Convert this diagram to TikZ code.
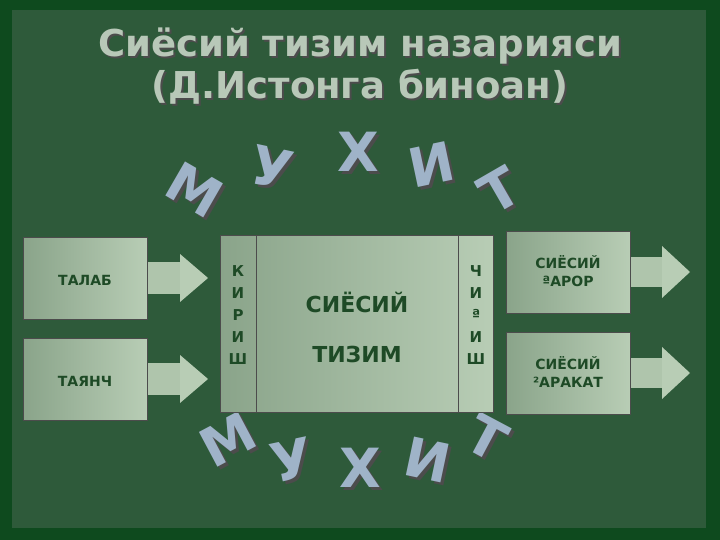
\documentclass[tikz,border=0pt]{standalone}
\usepackage{fontspec}
\setmainfont{DejaVu Sans}
\usetikzlibrary{shapes.arrows,shadows}
\definecolor{bg}{HTML}{2E5A3A}
\definecolor{frame}{HTML}{0E4A1E}
\definecolor{boxl}{HTML}{8AA48A}
\definecolor{boxr}{HTML}{B8CDB5}
\definecolor{txt}{HTML}{1E4A26}
\definecolor{ttl}{HTML}{B8C8B8}
\definecolor{let}{HTML}{9FB3C8}
\begin{document}
\begin{tikzpicture}[x=1pt,y=-1pt,
  bx/.style={draw=black!70,left color=boxl,right color=boxr},
  lbl/.style={font=\bfseries\fontsize{14}{18}\selectfont,text=txt,align=center},
  ttlst/.style={font=\bfseries\fontsize{37}{42}\selectfont,text=ttl,align=center},
  ml/.style={font=\bfseries\fontsize{54}{54}\selectfont,text=let,draw=none},
  mlsh/.style={font=\bfseries\fontsize{54}{54}\selectfont,text=black!70}]
\useasboundingbox (0,0) rectangle (720,540);
\fill[frame] (0,0) rectangle (720,540);
\fill[bg] (12,10) rectangle (706,528);
% title
\node[ttlst,text=black!70] at (362,68) {Сиёсий тизим назарияси\\(Д.Истонга биноан)};
\node[ttlst] (title) at (360,66) {Сиёсий тизим назарияси\\(Д.Истонга биноан)};
% letters top
\foreach \l/\x/\y/\r [count=\i] in {М/195/190/30,У/272/168/12,Х/358/152/0,И/432/165/-12,Т/500/190/-30}{
  \node[mlsh,rotate=-\r] at (\x+3,\y+3) {\l};
  \node[ml,rotate=-\r] (t\i) at (\x,\y) {\l};}
\foreach \l/\x/\y/\r [count=\i] in {М/228/440/-28,У/292/460/-12,Х/360/468/0,И/428/460/12,Т/487/438/28}{
  \node[mlsh,rotate=-\r] at (\x+3,\y+3) {\l};
  \node[ml,rotate=-\r] (b\i) at (\x,\y) {\l};}
% left arrow boxes
\foreach \n/\y/\t in {a/237/ТАЛАБ,b/338/ТАЯНЧ}{
  \fill[boxr!80!boxl] (140,\y+25) rectangle (182,\y+57);
  \fill[boxr] (180,\y+17) -- (208,\y+41) -- (180,\y+65) -- cycle;
  \node[bx,minimum width=124,minimum height=82,anchor=north west,inner sep=0] (\n) at (23,\y) {};
  \node[lbl] at (85,\y+43) {\t};}
% central
\node[bx,minimum width=273,minimum height=177,anchor=north west,inner sep=0] (c) at (220,235) {};
\draw[black!70] (256,235) -- (256,412) (458,235) -- (458,412);
\node[lbl,font=\bfseries\fontsize{22}{26}\selectfont] (sys) at (357,327) {СИЁСИЙ\\[24pt]ТИЗИМ};
\node[lbl,font=\bfseries\fontsize{15}{22}\selectfont] (in) at (238,315) {К\\И\\Р\\И\\Ш};
\node[lbl,font=\bfseries\fontsize{15}{22}\selectfont] (out) at (476,315) {Ч\\И\\ª\\И\\Ш};
% right arrow boxes
\foreach \n/\y/\t in {c1/231/{СИЁСИЙ\\ªАРОР},c2/332/{СИЁСИЙ\\²АРАКАТ}}{
  \fill[boxr!80!boxl] (625,\y+26) rectangle (664,\y+56);
  \fill[boxr] (662,\y+15) -- (690,\y+41) -- (662,\y+67) -- cycle;
  \node[bx,minimum width=124,minimum height=82,anchor=north west,inner sep=0] (\n) at (506,\y) {};
  \node[lbl] at (568,\y+40) {\t};}
\end{tikzpicture}
\end{document}
